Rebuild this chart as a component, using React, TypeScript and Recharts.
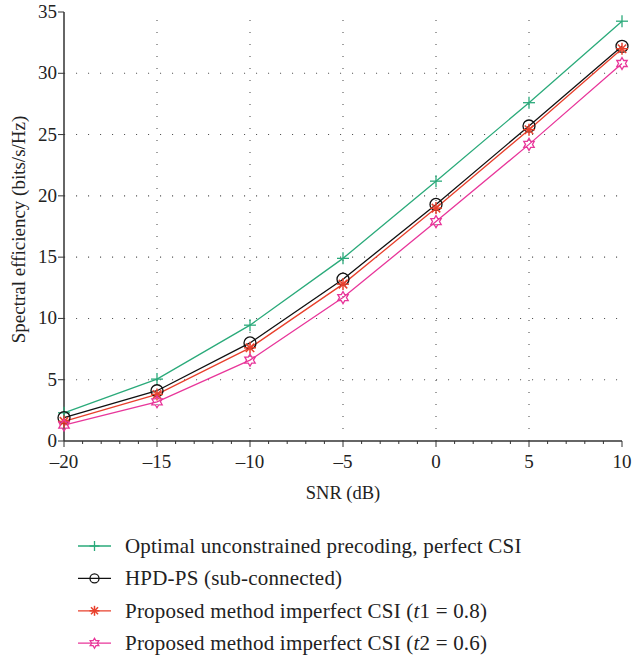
import React from "react";
import {
  LineChart,
  Line,
  XAxis,
  YAxis,
  ReferenceLine,
  Legend,
  Label,
} from "recharts";

// SNR in dB
const snr = [-20, -15, -10, -5, 0, 5, 10];
const optimal = [2.3, 5.05, 9.45, 14.9, 21.2, 27.6, 34.25];
const hpdPs = [1.9, 4.1, 8.0, 13.2, 19.3, 25.7, 32.2];
const proposedT1 = [1.6, 3.8, 7.6, 12.8, 19.0, 25.4, 32.0];
const proposedT2 = [1.3, 3.2, 6.6, 11.7, 17.9, 24.2, 30.8];

const xMajor = [-20, -15, -10, -5, 0, 5, 10];
const yMajor = [0, 5, 10, 15, 20, 25, 30, 35];
const xMinor = Array.from({ length: 31 }, (_, i) => i - 20);
const yMinor = Array.from({ length: 36 }, (_, i) => i);

const data = snr.map((s, i) => ({
  snr: s,
  optimal: optimal[i],
  hpdPs: hpdPs[i],
  t1: proposedT1[i],
  t2: proposedT2[i],
}));

const FONT = '"Liberation Serif", "DejaVu Serif", serif';
const AXIS = "#333";

const series = [
  { key: "optimal", name: "Optimal unconstrained precoding, perfect CSI", color: "#2aaa7a", marker: "plus" },
  { key: "hpdPs", name: "HPD-PS (sub-connected)", color: "#111111", marker: "circle" },
  { key: "t1", name: "Proposed method imperfect CSI (t1 = 0.8)", color: "#e8402c", marker: "star" },
  { key: "t2", name: "Proposed method imperfect CSI (t2 = 0.6)", color: "#e8369a", marker: "hexagram" },
];

const fmt = (v: number) => (v < 0 ? "\u2013" + Math.abs(v) : String(v));

const Marker = ({ kind, cx, cy, color, r }: { kind: string; cx: number; cy: number; color: string; r: number }) => {
  if (kind === "plus") {
    return (
      <g stroke={color} strokeWidth={1.3}>
        <line x1={cx - r} x2={cx + r} y1={cy} y2={cy} />
        <line x1={cx} x2={cx} y1={cy - r} y2={cy + r} />
      </g>
    );
  }
  if (kind === "circle") {
    return <circle cx={cx} cy={cy} r={r} fill="none" stroke={color} strokeWidth={1.3} />;
  }
  if (kind === "star") {
    const d = r * 0.707;
    return (
      <g stroke={color} strokeWidth={1.5}>
        <line x1={cx - r} x2={cx + r} y1={cy} y2={cy} />
        <line x1={cx} x2={cx} y1={cy - r} y2={cy + r} />
        <line x1={cx - d} x2={cx + d} y1={cy - d} y2={cy + d} />
        <line x1={cx - d} x2={cx + d} y1={cy + d} y2={cy - d} />
      </g>
    );
  }
  const pts: string[] = [];
  for (let i = 0; i < 12; i++) {
    const a = (Math.PI / 6) * i - Math.PI / 2;
    const rr = i % 2 === 0 ? r : r / Math.sqrt(3);
    pts.push(`${cx + rr * Math.cos(a)},${cy + rr * Math.sin(a)}`);
  }
  return <polygon points={pts.join(" ")} fill="none" stroke={color} strokeWidth={1.3} />;
};

const BottomTick = (props: any) => {
  const { x, y, payload } = props;
  const v = payload.value;
  const major = v % 5 === 0;
  return (
    <g>
      <line x1={x} x2={x} y1={y} y2={y + (major ? 6 : 3)} stroke={AXIS} strokeWidth={1} />
      {major && (
        <text x={x} y={y + 27} textAnchor="middle" fontFamily={FONT} fontSize={19} fill="#222">
          {fmt(v)}
        </text>
      )}
    </g>
  );
};

const LeftTick = (props: any) => {
  const { x, y, payload } = props;
  return (
    <g>
      <line x1={x - 6} x2={x} y1={y} y2={y} stroke={AXIS} strokeWidth={1} />
      <text x={x - 7} y={y + 6} textAnchor="end" fontFamily={FONT} fontSize={19} fill="#222">
        {payload.value}
      </text>
    </g>
  );
};

const RightTick = (props: any) => {
  const { x, y } = props;
  return <line x1={x - 3} x2={x} y1={y} y2={y} stroke={AXIS} strokeWidth={1} />;
};

const YTitle = (props: any) => {
  const { viewBox } = props;
  const cx = 18;
  const cy = viewBox.y + viewBox.height / 2 + 3;
  return (
    <text
      x={cx}
      y={cy}
      transform={`rotate(-90 ${cx} ${cy})`}
      textAnchor="middle"
      dominantBaseline="central"
      fontFamily={FONT}
      fontSize={19}
      fill="#222"
    >
      Spectral efficiency (bits/s/Hz)
    </text>
  );
};

const LegendLabel = ({ name }: { name: string }) => {
  const m = name.match(/^(.*\()t(\d.*)$/);
  if (!m) return <>{name}</>;
  return (
    <>
      {m[1]}
      <tspan fontStyle="italic">t</tspan>
      {m[2]}
    </>
  );
};

const LegendBox = () => (
  <svg width={633} height={130}>
    {series.map((s, i) => {
      const cy = 16 + i * 32.4;
      return (
        <g key={s.key}>
          <line x1={78} x2={111} y1={cy} y2={cy} stroke={s.color} strokeWidth={1.3} />
          <Marker kind={s.marker} cx={94.5} cy={cy} color={s.color} r={s.marker === "circle" ? 4.5 : 5} />
          <text x={125} y={cy + 7} fontFamily={FONT} fontSize={21} fill="#222" letterSpacing={0.2}>
            <LegendLabel name={s.name} />
          </text>
        </g>
      );
    })}
  </svg>
);

export default function App() {
  return (
    <div style={{ position: "absolute", left: 0, top: 0, background: "#fff" }}>
      <LineChart
        width={633}
        height={660}
        data={data}
        margin={{ top: 12, right: 11, left: 0, bottom: 0 }}
      >
        <XAxis
          dataKey="snr"
          type="number"
          domain={[-20, 10]}
          ticks={xMinor}
          interval={0}
          tick={<BottomTick />}
          tickLine={false}
          tickSize={0}
          tickMargin={0}
          height={89}
          axisLine={{ stroke: AXIS, strokeWidth: 1.5 }}
        >
          <Label value="SNR (dB)" position="insideTop" offset={45} fontFamily={FONT} fontSize={18.5} fill="#222" />
        </XAxis>
        <XAxis
          xAxisId="top"
          orientation="top"
          dataKey="snr"
          type="number"
          domain={[-20, 10]}
          ticks={xMajor}
          tick={false}
          tickLine={false}
          height={0}
          axisLine={{ stroke: AXIS, strokeWidth: 1.5 }}
        />
        <YAxis
          type="number"
          domain={[0, 35]}
          ticks={yMajor}
          interval={0}
          tick={<LeftTick />}
          tickLine={false}
          tickSize={0}
          tickMargin={0}
          width={64}
          axisLine={{ stroke: AXIS, strokeWidth: 1.5 }}
          label={{ content: <YTitle /> }}
        />
        <YAxis
          yAxisId="right"
          orientation="right"
          type="number"
          domain={[0, 35]}
          ticks={yMinor}
          interval={0}
          tick={<RightTick />}
          tickLine={false}
          tickSize={0}
          tickMargin={0}
          width={0}
          axisLine={{ stroke: AXIS, strokeWidth: 1.5 }}
        />
        {xMajor.slice(1, -1).map((v) => (
          <ReferenceLine key={"gx" + v} x={v} stroke="#555" strokeWidth={1.1} strokeDasharray="1.1 10.9" />
        ))}
        {yMajor.slice(1, -1).map((v) => (
          <ReferenceLine key={"gy" + v} y={v} stroke="#555" strokeWidth={1.1} strokeDasharray="1.1 10.9" />
        ))}
        {series.map((s) => (
          <Line
            key={s.key}
            dataKey={s.key}
            name={s.name}
            stroke={s.color}
            strokeWidth={1.3}
            isAnimationActive={false}
            dot={(p: any) => (
              <Marker key={s.key + p.index} kind={s.marker} cx={p.cx} cy={p.cy} color={s.color} r={6} />
            )}
            activeDot={false}
          />
        ))}
        <Legend verticalAlign="bottom" wrapperStyle={{ height: 130, width: 633, left: 0 }} content={<LegendBox />} />
      </LineChart>
    </div>
  );
}
